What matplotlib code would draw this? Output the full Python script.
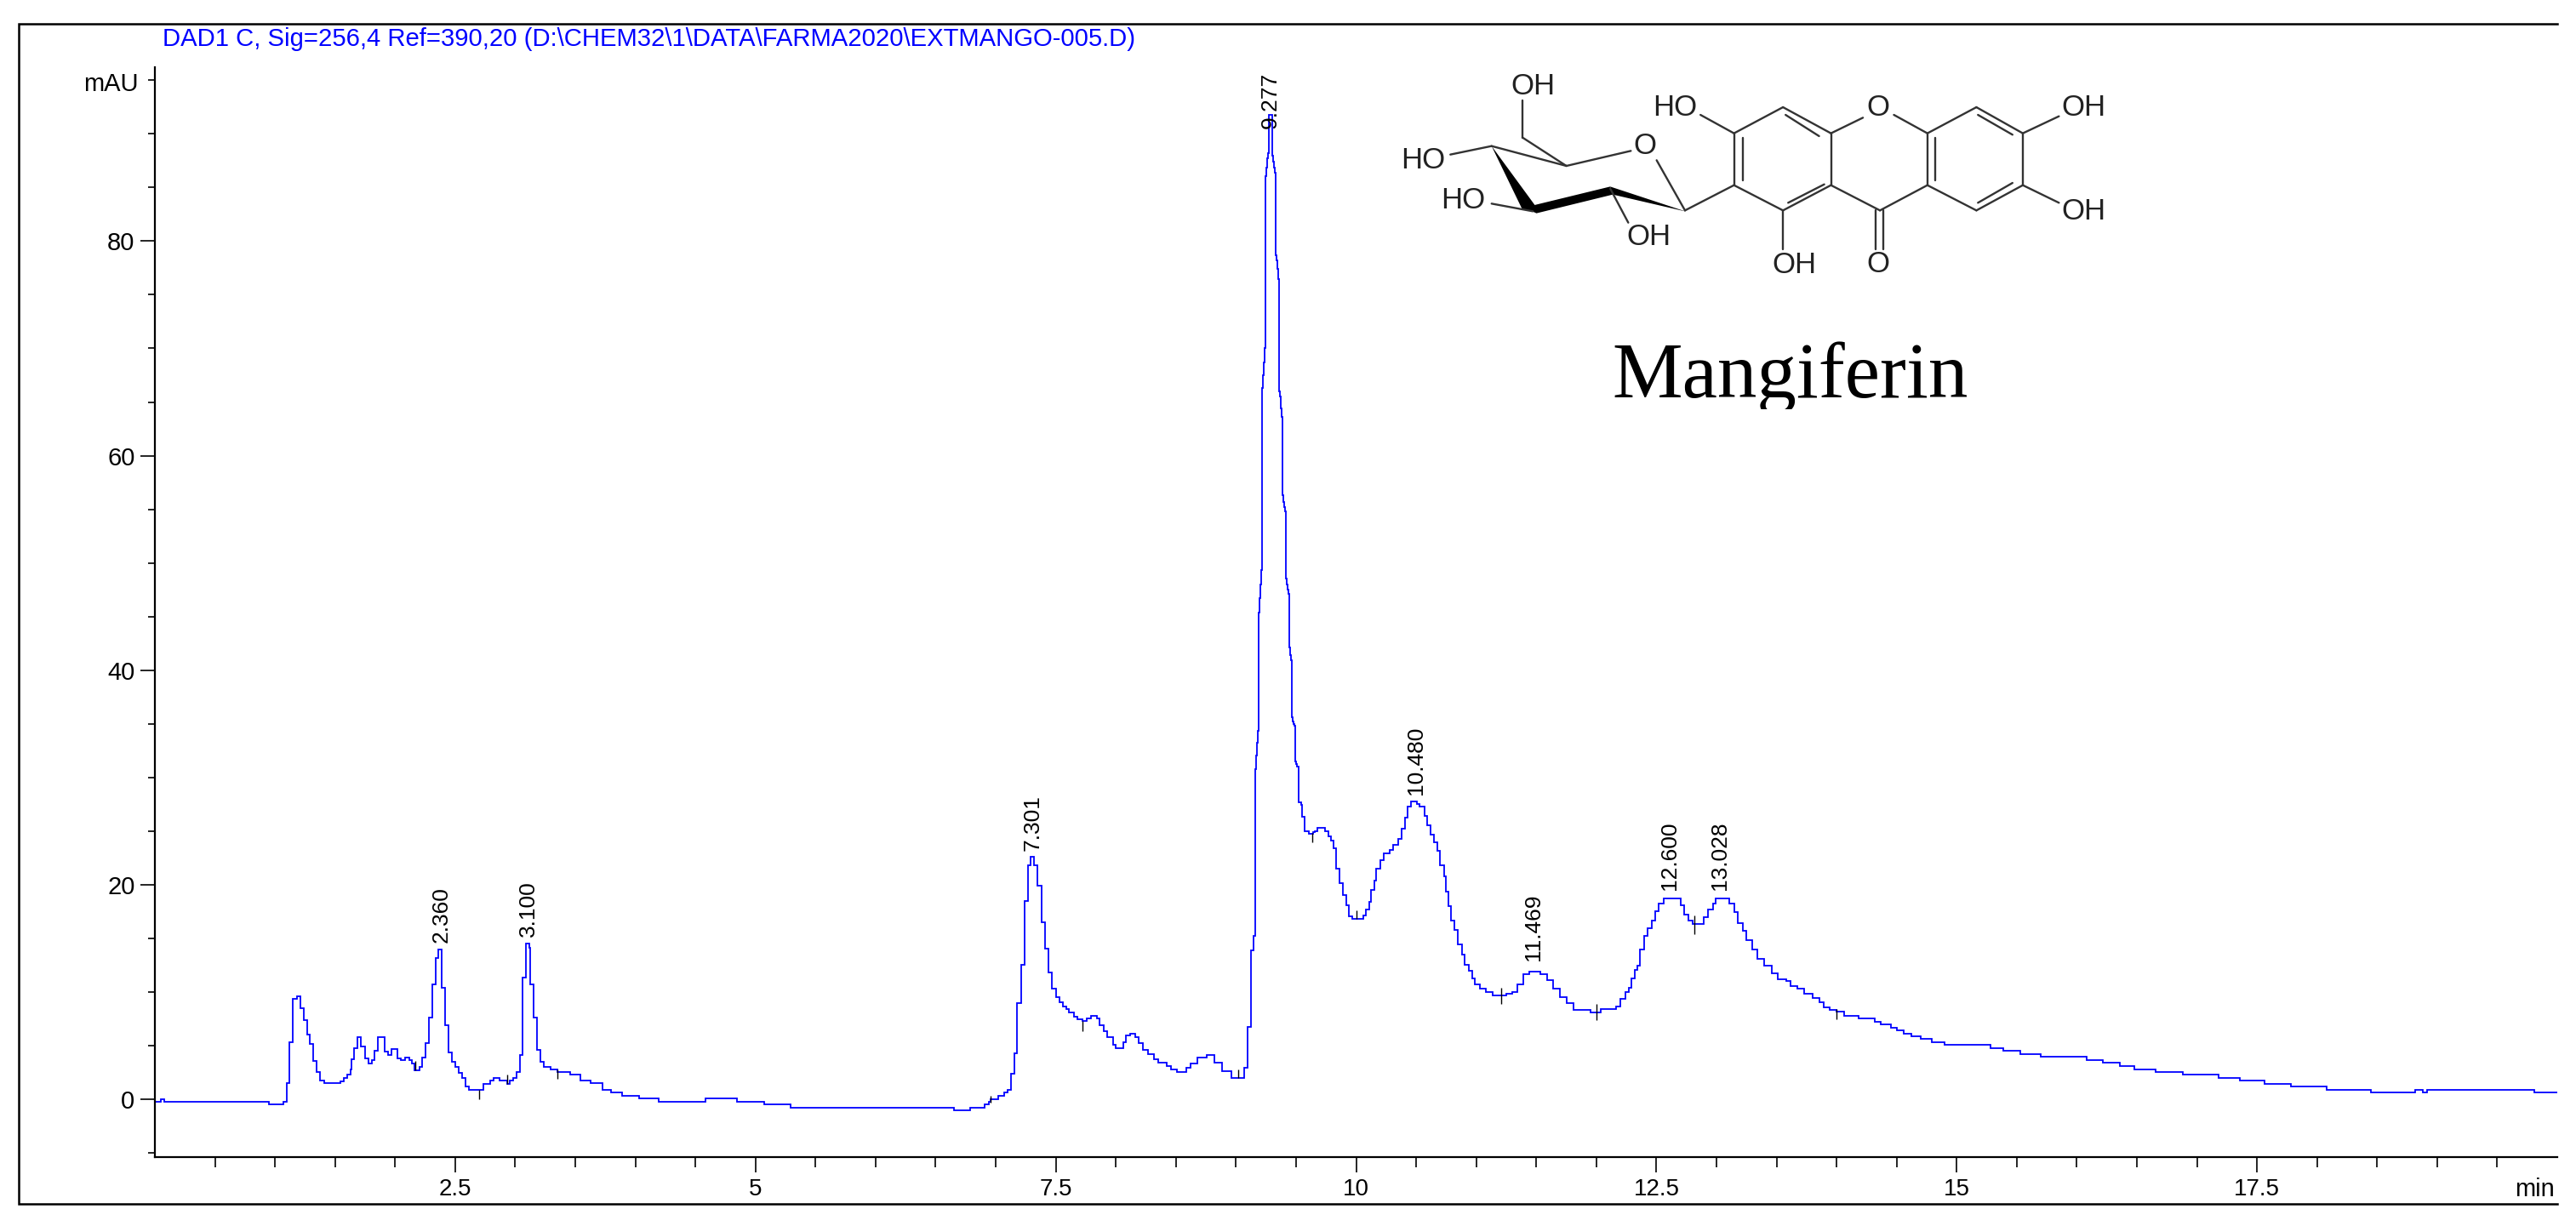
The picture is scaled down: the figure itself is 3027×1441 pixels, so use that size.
import matplotlib
matplotlib.use('Agg')
import matplotlib.pyplot as plt
from matplotlib.patches import Polygon
from matplotlib.transforms import Bbox

plt.rcParams['font.family'] = ['Liberation Sans', 'DejaVu Sans']

# trace (stepped like the instrument output)
time_min = [
    0.0, 0.025, 0.047, 0.08, 0.948, 1.067, 1.096, 1.121, 1.15, 1.183, 1.212, 1.237, 1.266, 1.291, 1.32, 1.345,
    1.374, 1.407, 1.544, 1.57, 1.6, 1.627, 1.635, 1.66, 1.689, 1.718, 1.75, 1.78, 1.805, 1.83, 1.859, 1.913,
    1.942, 1.971, 2.02, 2.05, 2.08, 2.116, 2.14, 2.16, 2.2, 2.224, 2.253, 2.278, 2.307, 2.336, 2.362, 2.39,
    2.416, 2.445, 2.474, 2.503, 2.528, 2.557, 2.586, 2.615, 2.738, 2.788, 2.821, 2.872, 2.933, 2.955, 2.984, 3.013,
    3.038, 3.063, 3.092, 3.118, 3.125, 3.154, 3.183, 3.212, 3.237, 3.291, 3.353, 3.46, 3.544, 3.624, 3.73, 3.8,
    3.888, 4.03, 4.195, 4.582, 4.843, 5.07, 5.295, 6.65, 6.79, 6.91, 6.94, 6.96, 7.02, 7.07, 7.1, 7.13,
    7.155, 7.18, 7.21, 7.24, 7.27, 7.29, 7.318, 7.347, 7.38, 7.41, 7.44, 7.47, 7.5, 7.53, 7.56, 7.59,
    7.61, 7.65, 7.68, 7.72, 7.76, 7.79, 7.84, 7.864, 7.897, 7.926, 7.98, 8.0, 8.06, 8.085, 8.117, 8.16,
    8.19, 8.226, 8.27, 8.316, 8.352, 8.425, 8.46, 8.51, 8.588, 8.624, 8.678, 8.758, 8.82, 8.884, 8.96,
    9.069, 9.098, 9.128, 9.148, 9.158, 9.167, 9.174, 9.181, 9.188, 9.195, 9.202, 9.209, 9.216, 9.224, 9.231, 9.238,
    9.245, 9.252, 9.26, 9.267, 9.274, 9.3, 9.31, 9.316, 9.323, 9.33, 9.337, 9.345, 9.352, 9.359, 9.366, 9.373,
    9.381, 9.388, 9.395, 9.402, 9.409, 9.416, 9.424, 9.431, 9.438, 9.445, 9.452, 9.459, 9.466, 9.473, 9.48, 9.487,
    9.494, 9.501, 9.509, 9.523, 9.54, 9.548, 9.574, 9.605, 9.64, 9.653, 9.68, 9.74, 9.77, 9.79, 9.81, 9.83,
    9.86, 9.89, 9.915, 9.94, 9.97, 10.06, 10.08, 10.11, 10.125, 10.15, 10.17, 10.2, 10.23, 10.28, 10.31, 10.35,
    10.38, 10.41, 10.43, 10.46, 10.51, 10.53, 10.57, 10.595, 10.62, 10.65, 10.68, 10.7, 10.73, 10.75, 10.77, 10.79,
    10.82, 10.85, 10.88, 10.9, 10.94, 10.97, 10.99, 11.03, 11.08, 11.14, 11.25, 11.3, 11.34, 11.39, 11.44, 11.535,
    11.59, 11.64, 11.7, 11.75, 11.81, 11.95, 12.04, 12.125, 12.165, 12.2, 12.245, 12.27, 12.29, 12.32, 12.34, 12.365,
    12.4, 12.43, 12.46, 12.49, 12.52, 12.56, 12.66, 12.7, 12.73, 12.77, 12.8, 12.86, 12.895, 12.93, 12.97, 12.995,
    13.08, 13.105, 13.15, 13.18, 13.22, 13.25, 13.295, 13.34, 13.4, 13.46, 13.51, 13.58, 13.62, 13.67, 13.73, 13.8,
    13.855, 13.89, 13.94, 14.0, 14.06, 14.18, 14.32, 14.37, 14.45, 14.505, 14.56, 14.625, 14.7, 14.795, 14.9, 15.28,
    15.39, 15.53, 15.7, 16.08, 16.22, 16.36, 16.48, 16.655, 16.88, 17.18, 17.36, 17.56, 17.78, 18.08, 18.45, 18.82,
    18.88, 18.915, 19.81, 20.0,
]
signal_mau = [
    -0.26, -0.26, 0.0, -0.26, -0.53, -0.26, 1.45, 5.26, 9.34, 9.58, 8.5, 7.37, 5.97, 5.13, 3.55, 2.5,
    1.71, 1.45, 1.66, 1.97, 2.24, 2.76, 3.68, 4.74, 5.79, 4.92, 3.82, 3.29, 3.6, 4.47, 5.79, 4.45,
    4.08, 4.68, 3.82, 3.6, 3.87, 3.6, 3.29, 2.71, 3.03, 3.89, 5.24, 7.63, 10.71, 13.16, 13.95, 10.34,
    6.84, 4.34, 3.5, 3.03, 2.45, 1.97, 1.18, 0.87, 1.39, 1.71, 1.97, 1.71, 1.39, 1.71, 1.97, 2.5,
    4.13, 11.3, 14.47, 14.08, 10.66, 7.63, 4.6, 3.5, 3.03, 2.76, 2.5, 2.24, 1.71, 1.45, 0.87, 0.58,
    0.32, 0.03, -0.26, 0.03, -0.26, -0.53, -0.79, -1.06, -0.79, -0.53, -0.26, 0.0, 0.26, 0.58, 0.87, 2.38,
    4.27, 8.92, 12.48, 18.5, 21.8, 22.55, 21.8, 19.87, 16.45, 13.99, 11.8, 10.3, 9.47, 9.06, 8.65, 8.37,
    8.1, 7.69, 7.42, 7.28, 7.55, 7.75, 7.5, 6.87, 6.32, 5.77, 5.09, 4.73, 5.3, 5.91, 6.1, 5.77,
    5.23, 4.54, 4.19, 3.72, 3.37, 3.09, 2.77, 2.49, 2.9, 3.31, 3.86, 4.13, 3.39, 2.63, 1.94,
    2.9, 6.73, 13.85, 15.2, 30.8, 32.0, 33.2, 34.3, 45.4, 46.7, 48.0, 49.3, 66.3, 67.5, 68.7, 70.0,
    86.1, 86.9, 87.7, 88.2, 91.8, 88.0, 87.4, 86.9, 86.4, 78.7, 78.2, 77.4, 76.5, 66.0, 65.5, 64.4,
    63.6, 56.3, 55.7, 55.2, 54.8, 48.5, 48.0, 47.5, 47.1, 42.1, 41.4, 40.9, 35.6, 35.2, 35.0, 34.8,
    31.5, 31.2, 31.0, 27.7, 27.4, 26.3, 25.0, 24.7, 24.9, 25.0, 25.3, 25.0, 24.5, 24.1, 23.4, 21.5,
    20.1, 19.05, 18.1, 17.0, 16.8, 17.1, 17.7, 18.4, 19.46, 20.4, 21.5, 22.3, 22.9, 23.2, 23.7, 24.25,
    25.2, 26.2, 27.26, 27.75, 27.5, 27.26, 26.4, 25.5, 24.65, 23.9, 23.15, 21.8, 20.8, 19.3, 17.95, 16.6,
    15.8, 14.4, 13.44, 12.48, 11.93, 11.25, 10.7, 10.3, 9.96, 9.66, 9.8, 10.0, 10.7, 11.6, 11.88, 11.6,
    11.1, 10.3, 9.47, 8.92, 8.32, 8.05, 8.35, 8.4, 8.63, 9.37, 10.0, 10.4, 11.27, 12.0, 12.4, 13.96,
    15.2, 15.95, 16.66, 17.5, 18.2, 18.72, 18.72, 18.07, 17.2, 16.66, 16.3, 16.3, 16.94, 17.65, 18.2, 18.72,
    18.72, 18.2, 17.4, 16.4, 15.66, 14.8, 13.96, 13.1, 12.4, 11.7, 11.13, 11.0, 10.56, 10.28, 9.85, 9.43,
    9.0, 8.58, 8.3, 8.15, 7.78, 7.5, 7.2, 6.93, 6.65, 6.37, 6.08, 5.86, 5.57, 5.32, 5.03, 4.75,
    4.47, 4.2, 3.93, 3.6, 3.37, 3.05, 2.78, 2.49, 2.26, 1.99, 1.7, 1.43, 1.14, 0.88, 0.59, 0.88,
    0.59, 0.88, 0.59, 0.59,
]

# retention time labels and where each one sits
peak_labels = ['2.360', '3.100', '7.301', '9.277', '10.480', '11.469', '12.600', '13.028']
label_t = [2.383, 3.11, 7.311, 9.285, 10.5, 11.48, 12.61, 13.03]
label_y = [14.6, 15.13, 23.15, 90.5, 28.4, 12.9, 19.5, 19.5]

# integrator baseline marks
mark_t = [2.166, 2.70, 2.93, 3.353, 6.958, 7.72, 9.02, 9.636, 10.0, 11.21, 12.0, 12.816, 14.0]
mark_lo = [2.7, 0.0, 1.39, 1.9, -0.38, 6.32, 1.94, 23.9, 16.8, 8.84, 7.39, 15.4, 7.44]
mark_hi = [3.55, 0.87, 2.24, 2.76, 0.3, 7.28, 2.76, 24.8, 17.6, 10.4, 8.87, 17.1, 8.35]

x_major = [2.5, 5, 7.5, 10, 12.5, 15, 17.5]
x_labels = ['2.5', '5', '7.5', '10', '12.5', '15', '17.5']
y_major = [0, 20, 40, 60, 80]

title_text = 'DAD1 C, Sig=256,4 Ref=390,20 (D:\\CHEM32\\1\\DATA\\FARMA2020\\EXTMANGO-005.D)'

W, H = 3027, 1441
fig = plt.figure(figsize=(W / 100, H / 100), dpi=100, facecolor='white')
ax = fig.add_axes([182 / W, 1 - 1360 / H, (3005 - 182) / W, (1360 - 79.3) / H])

ax.plot(time_min, signal_mau, drawstyle='steps-post', color='#0000FF', lw=1.3, solid_joinstyle='miter')
ax.vlines(mark_t, mark_lo, mark_hi, color='black', lw=1.0)
for lab, t, y in zip(peak_labels, label_t, label_y):
    ax.text(t, y, lab, rotation=90, ha='center', va='bottom', fontsize=19, color='black')

ax.set_xlim(0, 20)
ax.set_ylim(-5.42, 96.2)
ax.spines['right'].set_visible(False)
ax.spines['top'].set_visible(False)
ax.spines['left'].set_linewidth(1.6)
ax.spines['bottom'].set_linewidth(1.6)
ax.set_xticks(x_major)
ax.set_xticklabels(x_labels)
ax.set_xticks([t / 2 for t in range(1, 40) if t % 5 != 0], minor=True)
ax.set_yticks(y_major)
ax.set_yticks([v for v in range(-5, 96, 5) if v % 20 != 0], minor=True)
ax.tick_params(axis='x', which='major', length=13, width=1.2, labelsize=20, pad=5)
ax.tick_params(axis='x', which='minor', length=8.6, width=1.2)
ax.tick_params(axis='y', which='major', length=12, width=1.2, labelsize=21, pad=5)
ax.tick_params(axis='y', which='minor', length=5.8, width=1.2)
ax.annotate('mAU', (0, 95), xytext=(-14, -3), textcoords='offset points', ha='right', va='center', fontsize=21)
ax.annotate('min', (20, -5.42), xytext=(-2, -33), textcoords='offset points', ha='right', va='baseline', fontsize=21)

# overlay in image pixels: frame, header, structure drawing
ov = fig.add_axes([0, 0, 1, 1])
ov.set_xlim(0, W)
ov.set_ylim(H, 0)
ov.axis('off')
ov.patch.set_alpha(0)

ov.plot([3005, 22, 22, 3005], [28, 28, 1415, 1415], color='black', lw=1.8, solid_joinstyle='miter')
ov.text(191, 46, title_text, color='#0000FF', fontsize=21.1, ha='left', va='center')


def mx(x):
    return 1580 + x / 1.65


def my(y):
    return 60 + y / 3


bonds = [
    ((430, 405), (555, 352)), ((605, 385), (660, 562)), ((285, 335), (430, 405)), ((430, 405), (345, 305)),
    ((345, 305), (345, 175)), ((205, 365), (285, 335)), ((285, 538), (365, 565)), ((515, 485), (550, 605)),
    ((660, 562), (755, 473)), ((755, 473), (755, 290)), ((755, 290), (850, 198)), ((850, 198), (943, 290)),
    ((943, 290), (943, 473)), ((943, 473), (850, 562)), ((850, 562), (755, 473)), ((772, 305), (772, 455)),
    ((855, 225), (920, 300)), ((860, 535), (930, 470)), ((690, 225), (755, 290)), ((850, 562), (850, 700)),
    ((943, 290), (1005, 235)), ((1065, 225), (1130, 290)), ((943, 473), (1038, 562)), ((1038, 562), (1130, 473)),
    ((1030, 562), (1030, 700)), ((1045, 562), (1045, 700)), ((1130, 290), (1130, 473)), ((1130, 290), (1225, 198)),
    ((1225, 198), (1315, 290)), ((1315, 290), (1315, 473)), ((1315, 473), (1225, 562)), ((1225, 562), (1130, 473)),
    ((1145, 305), (1145, 455)), ((1228, 225), (1295, 295)), ((1228, 535), (1295, 465)), ((1315, 290), (1385, 230)),
    ((1315, 473), (1385, 535)),
]
for a, b in bonds:
    ov.plot([mx(a[0]), mx(b[0])], [my(a[1]), my(b[1])], color='#333333', lw=1.7, solid_capstyle='round')

wedges = [
    [(285, 335), (345, 560), (378, 566)],
    [(348, 552), (515, 478), (520, 506), (372, 572)],
    [(515, 478), (520, 506), (662, 566)],
]
for w in wedges:
    ov.add_patch(Polygon([(mx(p[0]), my(p[1])) for p in w], closed=True, color='black', lw=0))

atoms = [
    ('OH', 365, 125), ('HO', 640, 200), ('O', 1035, 200), ('OH', 1433, 198), ('O', 582, 335), ('HO', 152, 385),
    ('HO', 230, 527), ('OH', 590, 655), ('OH', 872, 755), ('O', 1035, 750), ('OH', 1433, 565),
]
for s, x, y in atoms:
    ov.text(mx(x), my(y), s, fontsize=25, ha='center', va='center', color='#222222')

name = ov.text(2104, 467, 'Mangiferin', family='Liberation Serif', fontsize=67, ha='center', va='baseline', color='black')
name.set_clip_box(Bbox([[1800, H - 481], [2400, H - 380]]))
name.set_clip_on(True)

fig.savefig('out.png', dpi=100)
